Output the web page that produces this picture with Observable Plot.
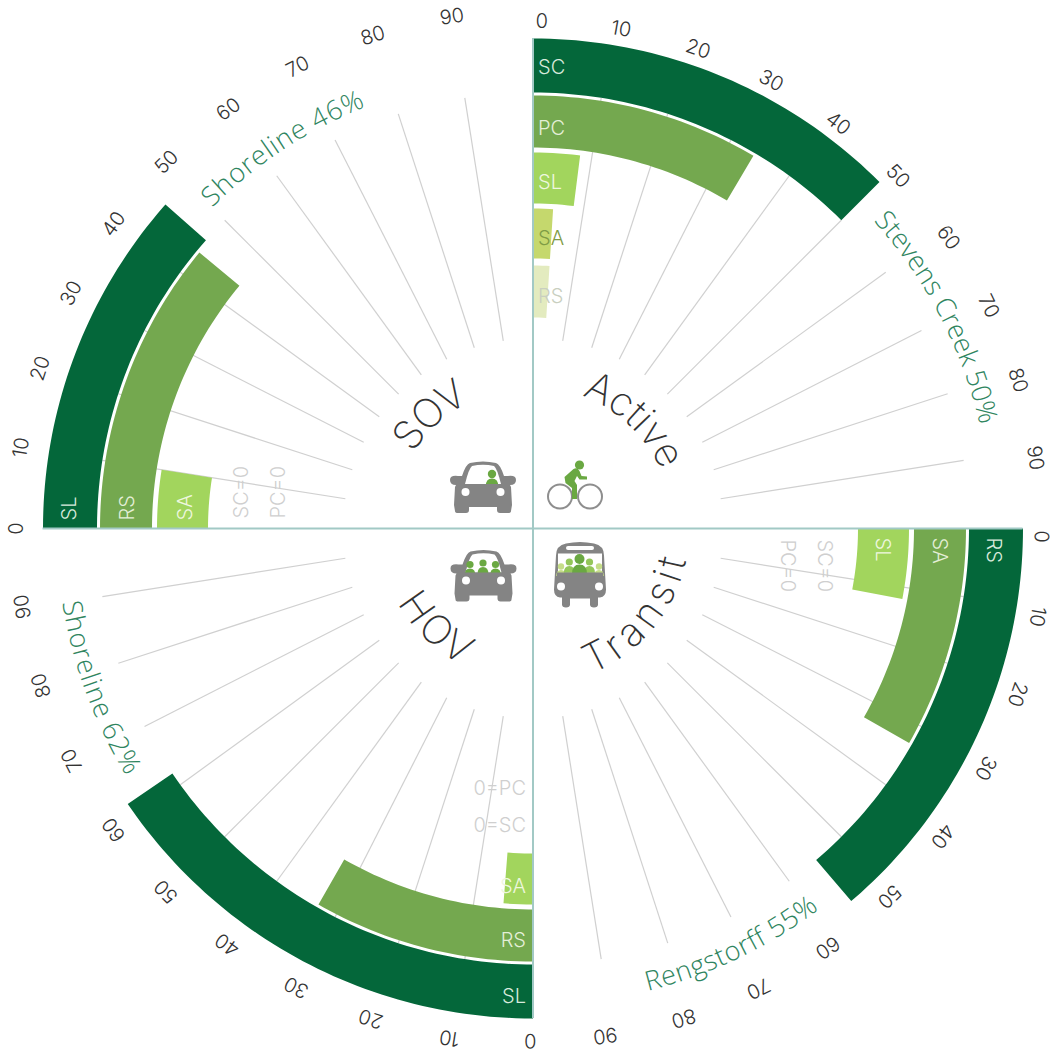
<!DOCTYPE html>
<html><head><meta charset="utf-8">
<style>html,body{margin:0;padding:0;background:#fff;overflow:hidden}svg{display:block}</style>
<script src="https://cdn.jsdelivr.net/npm/d3@7"></script>
<script src="https://cdn.jsdelivr.net/npm/@observablehq/plot@0.6"></script>
</head><body><script>
const modes = ["Active","Transit","HOV","SOV"];
const activeSeries = ["SC","PC","SL","SA","RS"];
const activeValues = [50,34,8,4,4];
const transitSeries = ["RS","SA","SL"];
const transitValues = [55,33,12];
const hovSeries = ["SL","RS","SA"];
const hovValues = [62,33,5];
const sovSeries = ["SL","RS","SA"];
const sovValues = [46,44,10];
const tickValues = [0,10,20,30,40,50,60,70,80,90];
const winners = ["Stevens Creek 50%","Rengstorff 55%","Shoreline 62%","Shoreline 46%"];
const zeroLabels = [[],["SC=0","PC=0"],["0=SC","0=PC"],["SC=0","PC=0"]];

const font = "Inter, Lato, sans-serif";
const bands = [[490,436],[433,381],[376,325],[320,270],[263,211]];
const bandColors = ["#04673a","#74a84f","#a2d55d","#c5d86d","#e3ebbf"];
const labelColors = ["#d8eadc","#e4efd8","#eef7df","#7f9c45","#c9cfc0"];
const deg = v => v*0.9;
const polar = (a,r) => { const t=a*Math.PI/180; return {x:r*Math.sin(t), y:-r*Math.cos(t)}; };
const local = (rot,u,r) => { const t=rot*Math.PI/180; return {x:u*Math.cos(t)+r*Math.sin(t), y:u*Math.sin(t)-r*Math.cos(t)}; };

const quadrants = [
  {name:modes[0],rot:0,series:activeSeries,values:activeValues},
  {name:modes[1],rot:90,series:transitSeries,values:transitValues},
  {name:modes[2],rot:180,series:hovSeries,values:hovValues},
  {name:modes[3],rot:270,series:sovSeries,values:sovValues}
];
const tickPlace = [{off:1,r:507,r0:507},{off:.9,r:512,r0:508},{off:.3,r:516,r0:512},{off:0,r:518,r0:516}];
const labelPlace = [
  {u:5,rs:[-2,-7,-5,-5,-5]},
  {u:9,rs:[-3,-1,-1]},
  {u:-7,rs:[5,5,8],upright:true},
  {u:8,rs:[0,-1.5,-3]}
];

const polys=[], barLabels=[], barLabelsEnd=[], grid=[], ticks=[], zeros=[], zerosEnd=[];
quadrants.forEach((q,qi)=>{
  q.values.forEach((v,i)=>{
    const [r1,r0]=bands[i], end=deg(v), id=q.name+q.series[i], pts=[];
    for(let a=0;a<end;a+=1) pts.push(polar(q.rot+a,r1));
    pts.push(polar(q.rot+end,r1), polar(q.rot+end,r0));
    for(let a=end-1;a>0;a-=1) pts.push(polar(q.rot+a,r0));
    pts.push(polar(q.rot,r0));
    pts.forEach(p=>polys.push({...p,id,fill:bandColors[i]}));
    const lp=labelPlace[qi], mid=(r1+r0)/2+lp.rs[i];
    if(lp.upright) barLabelsEnd.push({x:lp.u,y:mid,text:q.series[i],rotate:0,fill:labelColors[i]});
    else barLabels.push({...local(q.rot,lp.u,mid),text:q.series[i],rotate:q.rot,fill:labelColors[i]});
  });
  tickValues.forEach(t=>{
    if(t>0){const a=polar(q.rot+deg(t),190),b=polar(q.rot+deg(t),436);
      grid.push({x1:a.x,y1:a.y,x2:b.x,y2:b.y});}
    const tp=tickPlace[qi], ang=q.rot+deg(t)+tp.off, p=polar(ang,t===0?tp.r0:tp.r);
    ticks.push({...p,text:String(t),rotate:ang});
  });
  zeroLabels[qi].forEach((s,i)=>{
    const r=[291,254][i];
    if(qi===1) zeros.push({x:r,y:11,text:s,rotate:90});
    if(qi===2) zerosEnd.push({x:-7,y:[297,260][i],text:s,rotate:0});
    if(qi===3) zeros.push({x:-r,y:-10,text:s,rotate:270});
  });
});

const iconAnchors = [
  {kind:"bike",x:14,y:-55},
  {kind:"bus",x:19.5,y:13.5},
  {kind:"hov",x:-82,y:21.5},
  {kind:"sov",x:-82.5,y:-67}
];
const captionStyle = {size:27,weight:300,family:"'Open Sans', Lato, sans-serif",fill:"#2f8560"};
const titleStyle = {size:40,weight:200,family:font,fill:"#333"};
const arcs = [
  {text:winners[0],r:459,a0:48,a1:77,rev:false,...captionStyle},
  {text:winners[1],r:477,a0:166,a1:143,rev:true,...captionStyle},
  {text:winners[2],r:476,a0:261,a1:238.5,rev:true,...captionStyle},
  {text:winners[3],r:453,a0:315,a1:338.5,rev:false,...captionStyle},
  {text:modes[0],r:141,a0:20.5,a1:66,rev:false,...titleStyle},
  {text:modes[1],r:157,a0:158,a1:100,rev:true,...titleStyle},
  {text:modes[2],r:154,a0:241,a1:206,rev:true,...titleStyle},
  {text:modes[3],r:141,a0:302,a1:333,rev:false,...titleStyle}
];

const NS="http://www.w3.org/2000/svg";
const el=(n,at={},parent)=>{const e=document.createElementNS(NS,n);for(const k in at)e.setAttribute(k,at[k]);if(parent)parent.appendChild(e);return e;};
const GRAY="#848484", GREEN="#6aa842", LIGHT="#c5dd88";
const carBody="M20,2 Q33,-1 46,2 Q50,3 54,15 L58,15 Q66,14 66,19 Q66,24 60,24 L61,26 L62,44 L61,50 Q61,52 58,52 L50,52 Q47,52 47,49 L47,46 L19,46 L19,49 Q19,52 16,52 L8,52 Q5,52 5,50 L4,44 L5,26 L6,24 Q0,24 0,19 Q0,14 8,15 L12,15 Q16,3 20,2 Z";
const carWin="M22,5 Q33,2.5 44,5 Q47,7 51,23 L15,23 Q19,7 22,5 Z";
function person(g,cx,cy,r,c){
  el("circle",{cx,cy,r,fill:c},g);
  el("path",{d:`M${cx-r*1.5},${cy+r*3} Q${cx-r*1.5},${cy+r*1.1} ${cx},${cy+r*1.1} Q${cx+r*1.5},${cy+r*1.1} ${cx+r*1.5},${cy+r*3} Z`,fill:c},g);
}
function drawIcon(g,kind){
  if(kind==="sov"||kind==="hov"){
    el("path",{d:carBody,fill:GRAY},g);
    el("path",{d:carWin,fill:"#fff"},g);
    if(kind==="sov"){person(g,42,13,4.2,GREEN);}
    else{[[19.5,15],[32.5,13.5],[45,15]].forEach(([x,y])=>person(g,x,y,3.6,GREEN));}
    el("rect",{x:12,y:23,width:42,height:6,fill:GRAY},g);
    el("circle",{cx:15.5,cy:31,r:4,fill:"#fff"},g);
    el("circle",{cx:50.5,cy:31,r:4,fill:"#fff"},g);
  } else if(kind==="bus"){
    el("path",{d:"M4,14 Q4,4 14,2 Q28,-1 42,2 Q52,4 52,14 L54,48 Q54,55 48,56 L46,56 L46,63 Q46,66 42,66 Q38,66 38,63 L38,57 L18,57 L18,63 Q18,66 14,66 Q10,66 10,63 L10,56 L8,56 Q2,55 2,48 Z",fill:GRAY},g);
    el("rect",{x:14,y:4.5,width:28,height:4,rx:2,fill:"#fff"},g);
    el("rect",{x:6,y:12,width:44,height:19,fill:"#fff"},g);
    [[9,25],[47,25]].forEach(([x,y])=>person(g,x,y,3.2,LIGHT));
    [[17.3,20.5],[37.5,20.5]].forEach(([x,y])=>person(g,x,y,3.6,"#94c65a"));
    person(g,27.5,17.5,5,GREEN);
    el("rect",{x:5,y:31,width:46,height:6,fill:GRAY},g);
    el("circle",{cx:9,cy:45,r:4,fill:"#fff"},g);
    el("circle",{cx:47,cy:45,r:4,fill:"#fff"},g);
  } else {
    el("circle",{cx:13.5,cy:23.5,r:12,fill:"none",stroke:"#8e8e8e","stroke-width":2},g);
    el("circle",{cx:43.5,cy:23.5,r:12,fill:"none",stroke:"#8e8e8e","stroke-width":2},g);
    el("circle",{cx:33,cy:-8,r:4.6,fill:GREEN},g);
    el("path",{d:"M18,4 L27,-4 Q31,-6 33,-2 L35,3 L40.5,3.5 L40.5,6.5 L33,6.5 L30.5,3 L28,8 L30.5,12 L30.5,26 L25.5,26 L25.5,15 L19,10 Z",fill:GREEN},g);
  }
}
function iconsMark(index,{x,y}){
  const root=el("g");
  iconAnchors.forEach(d=>{
    const g=el("g",{transform:`translate(${x(d.x)},${y(d.y)})`},root);
    drawIcon(g,d.kind);
  });
  return root;
}
const measure=document.createElement("canvas").getContext("2d");
function arcsMark(index,{x,y}){
  const root=el("g");
  arcs.forEach((d,i)=>{
    measure.font=`${d.weight} ${d.size}px ${d.family}`;
    const s=polar(d.a0,d.r), e=polar(d.a1,d.r), id="arc"+i;
    el("path",{id,fill:"none",d:`M${x(s.x)},${y(s.y)} A${d.r},${d.r} 0 0 ${d.rev?0:1} ${x(e.x)},${y(e.y)}`},root);
    const len=Math.abs(d.a1-d.a0)*Math.PI/180*d.r;
    const spacing=(len-measure.measureText(d.text).width)/d.text.length;
    const t=el("text",{"font-family":d.family,"font-size":d.size,"font-weight":d.weight,fill:d.fill,"letter-spacing":spacing.toFixed(2),"text-anchor":"middle"},root);
    const tp=el("textPath",{href:"#"+id,startOffset:"50%"},t);
    tp.textContent=d.text;
  });
  return root;
}

const chart = Plot.plot({
  width:1053,height:1053,margin:0,
  x:{domain:[-532.5,520.5],range:[0,1053],axis:null},
  y:{domain:[-528,525],range:[0,1053],axis:null},
  color:{type:"identity"},
  marks:[
    Plot.link(grid,{x1:"x1",y1:"y1",x2:"x2",y2:"y2",stroke:"#d0d0d0",strokeWidth:1.2}),
    Plot.line(polys,{x:"x",y:"y",z:"id",fill:"fill",stroke:null,curve:"linear-closed"}),
    Plot.ruleY([0],{x1:-490,x2:490,stroke:"#a2c9c5",strokeWidth:2}),
    Plot.ruleX([0],{y1:-490,y2:490,stroke:"#a2c9c5",strokeWidth:2}),
    Plot.text(barLabels,{x:"x",y:"y",text:"text",rotate:"rotate",textAnchor:"start",fill:"fill",fontSize:20,fontWeight:300,fontFamily:font}),
    Plot.text(barLabelsEnd,{x:"x",y:"y",text:"text",rotate:"rotate",textAnchor:"end",fill:"fill",fontSize:20,fontWeight:300,fontFamily:font}),
    Plot.text(zeros,{x:"x",y:"y",text:"text",rotate:"rotate",textAnchor:"start",fill:"#cfcfcf",fontSize:20,fontWeight:300,fontFamily:font}),
    Plot.text(zerosEnd,{x:"x",y:"y",text:"text",rotate:"rotate",textAnchor:"end",fill:"#cfcfcf",fontSize:20,fontWeight:300,fontFamily:font}),
    Plot.text(ticks,{x:"x",y:"y",text:"text",rotate:"rotate",fill:"#333",fontSize:20,fontWeight:300,fontFamily:font}),
    arcsMark,
    iconsMark
  ]
});
document.body.appendChild(chart);
</script></body></html>
